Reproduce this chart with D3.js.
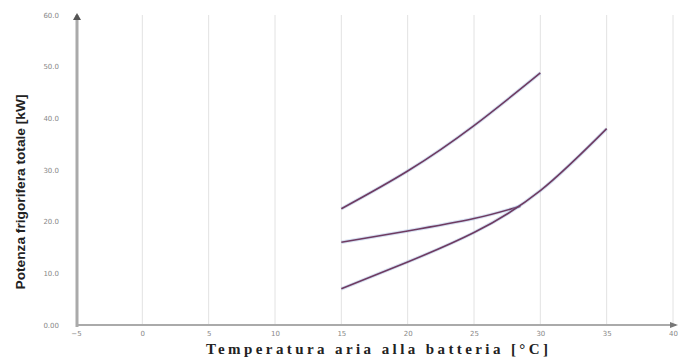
<!DOCTYPE html>
<html><head><meta charset="utf-8">
<script src="https://cdn.jsdelivr.net/npm/d3@7"></script>
<style>body{margin:0;background:#fff}svg{display:block}</style>
</head><body>
<svg id="c" width="686" height="358"></svg>
<script>
const xTicks = [-5, 0, 5, 10, 15, 20, 25, 30, 35, 40];
const yTicks = [0, 10, 20, 30, 40, 50, 60];
const yTickLabels = ["0.00", "10.0", "20.0", "30.0", "40.0", "50.0", "60.0"];
const topX = [15, 20, 25, 30];
const topY = [22.5, 29.8, 38.6, 48.8];
const midX = [15, 20, 25, 28.5];
const midY = [16.0, 18.2, 20.6, 23.0];
const lowX = [15, 20, 25, 30, 35];
const lowY = [7.0, 12.2, 17.9, 26.0, 38.0];
const xTitle = "Temperatura aria alla batteria [°C]";
const yTitle = "Potenza frigorifera totale [kW]";

const svg = d3.select("#c");
const x = d3.scaleLinear().domain([-5, 40]).range([76, 673]);
const y = d3.scaleLinear().domain([0, 60]).range([325, 15]);

// grid
svg.append("g").selectAll("line").data(xTicks.slice(1)).join("line")
  .attr("x1", d => x(d)).attr("x2", d => x(d)).attr("y1", 15).attr("y2", 325)
  .attr("stroke", "#e2e2e2").attr("stroke-width", 1);

// axes
const xa = svg.append("g").attr("transform", "translate(0,325)")
  .call(d3.axisBottom(x).tickValues(xTicks).tickSize(0).tickPadding(6).tickFormat(d3.format("d")));
xa.select(".domain").attr("stroke", "#aaa").attr("stroke-width", 2).attr("d", "M76,0H676");
xa.selectAll("text").attr("fill", "#888").style("font-size", "7px").style("font-family", "DejaVu Sans");

const ya = svg.append("g").attr("transform", "translate(77,0)")
  .call(d3.axisLeft(y).tickValues(yTicks).tickSize(0).tickPadding(18).tickFormat((d, i) => yTickLabels[i]));
ya.select(".domain").attr("stroke", "#aaa").attr("stroke-width", 3).attr("d", "M0,15V327");
ya.selectAll("text").attr("fill", "#888").style("font-size", "7px").style("font-family", "DejaVu Sans");

// arrows
svg.append("path").attr("d", "M73,20L77,13L81,20Z").attr("fill", "#555");
svg.append("path").attr("d", "M670,322L678,325L670,328Z").attr("fill", "#777");

// series
const line = d3.line().x(d => x(d[0])).y(d => y(d[1])).curve(d3.curveNatural);
const series = [d3.zip(topX, topY), d3.zip(midX, midY), d3.zip(lowX, lowY)];
series.forEach(s => {
  svg.append("path").attr("d", line(s)).attr("fill", "none")
    .attr("stroke", "#8aa6d6").attr("stroke-width", 3.5).attr("opacity", 0.35);
  svg.append("path").attr("d", line(s)).attr("fill", "none")
    .attr("stroke", "#6e3b62").attr("stroke-width", 1.6);
});

// titles
svg.append("text").attr("x", 377).attr("y", 354).attr("text-anchor", "middle")
  .style("font-family", "Liberation Serif").style("font-weight", "bold").style("font-size", "15px")
  .attr("textLength", 342).attr("lengthAdjust", "spacing").attr("fill", "#222").text(xTitle);
svg.append("text").attr("transform", "translate(25,192) rotate(-90)").attr("text-anchor", "middle")
  .style("font-family", "Liberation Sans Narrow, Liberation Sans").style("font-weight", "bold").style("font-size", "13px")
  .attr("textLength", 195).attr("lengthAdjust", "spacingAndGlyphs").attr("fill", "#222").text(yTitle);
</script>
</body></html>
